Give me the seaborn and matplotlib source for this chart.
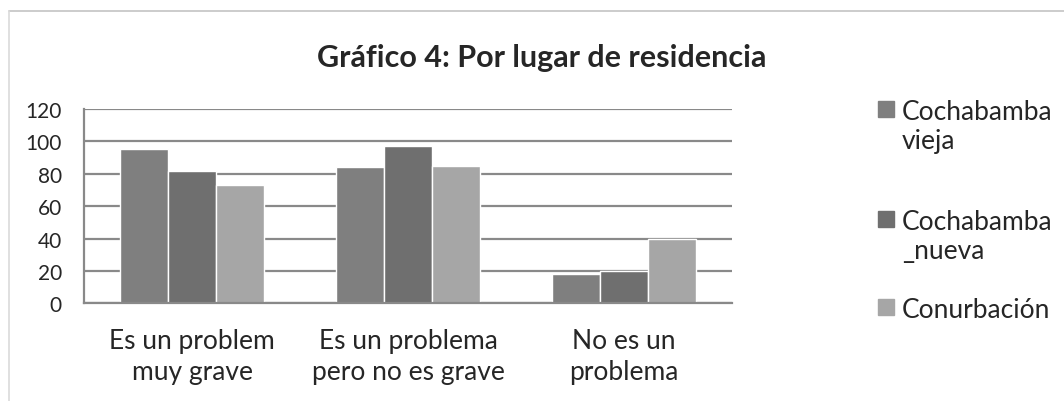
import pandas as pd
import numpy as np
import matplotlib.pyplot as plt
import matplotlib.patches as mpatches
import seaborn as sns

# data
categories = ['Es un problem\nmuy grave', 'Es un problema\npero no es grave', 'No es un\nproblema']
series = ['Cochabamba\nvieja', 'Cochabamba\n_nueva', 'Conurbación']
vieja = [95, 84, 18]
nueva = [82, 97, 20]
conurbacion = [73, 85, 40]
colors = ['#7f7f7f', '#6f6f6f', '#a6a6a6']

df = pd.DataFrame({
    'categoria': categories * 3,
    'serie': [series[0]] * 3 + [series[1]] * 3 + [series[2]] * 3,
    'valor': vieja + nueva + conurbacion,
})

sns.set_style('white')
plt.rcParams['font.family'] = ['Lato', 'DejaVu Sans']

W, H = 1064, 402
fig = plt.figure(figsize=(W / 100, H / 100), dpi=100)
ax = fig.add_axes([84 / W, 1 - 304.3 / H, 648 / W, 194.3 / H])

sns.barplot(data=df, x='categoria', y='valor', hue='serie', palette=colors,
            width=0.667, gap=0, saturation=1, ax=ax, legend=False)

ax.set_ylim(0, 120)
ax.set_yticks(range(0, 121, 20))
ax.set_xlim(-0.5, 2.5)
ax.grid(axis='y', color='#898989', linewidth=1.6)
ax.set_axisbelow(True)
for s in ['top', 'right']:
    ax.spines[s].set_visible(False)
for s in ['left', 'bottom']:
    ax.spines[s].set_color('#898989')
    ax.spines[s].set_linewidth(1.6)
ax.tick_params(axis='y', length=2, width=1.6, color='#898989', labelsize=15, pad=14)
ax.tick_params(axis='x', length=0, labelsize=19, pad=18)
for lbl in ax.get_xticklabels():
    lbl.set_linespacing(1.3)
ax.set_xlabel('')
ax.set_ylabel('')

fig.text(542 / W, 1 - 58 / H, 'Gráfico 4: Por lugar de residencia', ha='center', va='center',
         fontsize=22, fontweight='bold')

# legend drawn by hand so the square sits on the first text line
legend_tops = [102, 212, 300]
for lab, col, top in zip(series, colors, legend_tops):
    fig.add_artist(mpatches.Rectangle((878 / W, 1 - (top + 16) / H), 16 / W, 16 / H,
                                      color=col, transform=fig.transFigure))
    fig.text(902 / W, 1 - (top - 2) / H, lab, ha='left', va='top',
             fontsize=19, linespacing=1.2)

# light outer frame of the chart area
fig.add_artist(plt.Line2D([9 / W, 1.0], [1 - 12 / H, 1 - 12 / H], color='#c4c4c4', linewidth=1.2))
fig.add_artist(plt.Line2D([9 / W, 9 / W], [0.0, 1 - 12 / H], color='#dadada', linewidth=1.2))

fig.savefig('out.png', dpi=100)
